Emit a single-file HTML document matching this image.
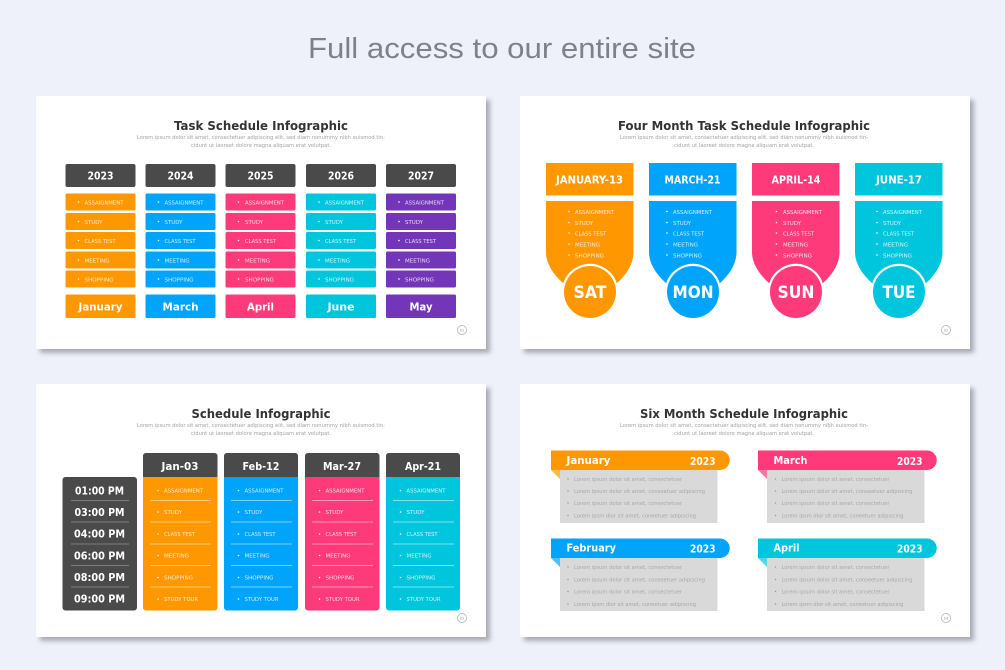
<!DOCTYPE html>
<html><head><meta charset="utf-8"><style>
html,body{margin:0;padding:0;background:#eef1f9}
svg{display:block}
text{font-family:"DejaVu Sans","Liberation Sans",sans-serif}
.h{font-weight:700;fill:#333;font-size:12.8px}
.sub{font-size:5.4px;fill:#a2a2a2}
.w{font-weight:700;fill:#fff}
.l{font-size:5.3px;fill:#fff;fill-opacity:.82}
.g{font-size:5.6px;fill:#a8a8a8}
.n{font-size:3.5px;fill:#999}
</style></head><body>
<svg width="1005" height="670" viewBox="0 0 1005 670" xmlns="http://www.w3.org/2000/svg">
<defs><filter id="b" x="-5%" y="-5%" width="110%" height="115%"><feGaussianBlur stdDeviation="2.5"/></filter></defs>
<rect width="1005" height="670" fill="#eef1f9"/>
<text x="502" y="58" text-anchor="middle" textLength="388" lengthAdjust="spacingAndGlyphs" style="font-family:'Liberation Sans',sans-serif;font-size:29px;fill:#7d8289">Full access to our entire site</text>

<!-- cards -->
<g fill="#a9acb4" filter="url(#b)"><rect x="40" y="100" width="450" height="253"/><rect x="524" y="100" width="450" height="253"/><rect x="40" y="388" width="450" height="253"/><rect x="524" y="388" width="450" height="253"/></g>
<g fill="#fff"><rect x="36" y="96" width="450" height="253"/><rect x="520" y="96" width="450" height="253"/><rect x="36" y="384" width="450" height="253"/><rect x="520" y="384" width="450" height="253"/></g>

<!-- CARD 1 -->
<text class="h" x="261" y="130" text-anchor="middle" textLength="174" lengthAdjust="spacingAndGlyphs">Task Schedule Infographic</text>
<text class="sub" x="261" y="139" text-anchor="middle" textLength="248" lengthAdjust="spacingAndGlyphs">Lorem ipsum dolor sit amet, consectetuer adipiscing elit, sed diam nonummy nibh euismod tin-</text>
<text class="sub" x="261" y="147" text-anchor="middle" textLength="140" lengthAdjust="spacingAndGlyphs">cidunt ut laoreet dolore magna aliquam erat volutpat.</text>
<g fill="#4a4a4a"><rect x="65.5" y="164" width="70" height="23" rx="2"/><rect x="145.5" y="164" width="70" height="23" rx="2"/><rect x="225.5" y="164" width="70" height="23" rx="2"/><rect x="306" y="164" width="70" height="23" rx="2"/><rect x="386" y="164" width="70" height="23" rx="2"/></g>
<g font-size="11" text-anchor="middle"><text class="w" x="100.5" y="179.5" textLength="26" lengthAdjust="spacingAndGlyphs">2023</text><text class="w" x="180.5" y="179.5" textLength="26" lengthAdjust="spacingAndGlyphs">2024</text><text class="w" x="260.5" y="179.5" textLength="26" lengthAdjust="spacingAndGlyphs">2025</text><text class="w" x="341" y="179.5" textLength="26" lengthAdjust="spacingAndGlyphs">2026</text><text class="w" x="421" y="179.5" textLength="26" lengthAdjust="spacingAndGlyphs">2027</text></g>
<g fill="#ff9800"><rect x="65.5" y="193.5" width="70" height="17" rx="1.5"/><rect x="65.5" y="213" width="70" height="17" rx="1.5"/><rect x="65.5" y="232" width="70" height="17" rx="1.5"/><rect x="65.5" y="251.5" width="70" height="17" rx="1.5"/><rect x="65.5" y="270.5" width="70" height="17" rx="1.5"/><rect x="65.5" y="294.5" width="70" height="23.5" rx="1.5"/></g>
<g fill="#00a5fb"><rect x="145.5" y="193.5" width="70" height="17" rx="1.5"/><rect x="145.5" y="213" width="70" height="17" rx="1.5"/><rect x="145.5" y="232" width="70" height="17" rx="1.5"/><rect x="145.5" y="251.5" width="70" height="17" rx="1.5"/><rect x="145.5" y="270.5" width="70" height="17" rx="1.5"/><rect x="145.5" y="294.5" width="70" height="23.5" rx="1.5"/></g>
<g fill="#fe3a7a"><rect x="225.5" y="193.5" width="70" height="17" rx="1.5"/><rect x="225.5" y="213" width="70" height="17" rx="1.5"/><rect x="225.5" y="232" width="70" height="17" rx="1.5"/><rect x="225.5" y="251.5" width="70" height="17" rx="1.5"/><rect x="225.5" y="270.5" width="70" height="17" rx="1.5"/><rect x="225.5" y="294.5" width="70" height="23.5" rx="1.5"/></g>
<g fill="#00c6dd"><rect x="306" y="193.5" width="70" height="17" rx="1.5"/><rect x="306" y="213" width="70" height="17" rx="1.5"/><rect x="306" y="232" width="70" height="17" rx="1.5"/><rect x="306" y="251.5" width="70" height="17" rx="1.5"/><rect x="306" y="270.5" width="70" height="17" rx="1.5"/><rect x="306" y="294.5" width="70" height="23.5" rx="1.5"/></g>
<g fill="#7436b8"><rect x="386" y="193.5" width="70" height="17" rx="1.5"/><rect x="386" y="213" width="70" height="17" rx="1.5"/><rect x="386" y="232" width="70" height="17" rx="1.5"/><rect x="386" y="251.5" width="70" height="17" rx="1.5"/><rect x="386" y="270.5" width="70" height="17" rx="1.5"/><rect x="386" y="294.5" width="70" height="23.5" rx="1.5"/></g>
<g fill="#fff">
<circle cx="78.5" cy="202" r=".8"/><circle cx="78.5" cy="221.5" r=".8"/><circle cx="78.5" cy="240.5" r=".8"/><circle cx="78.5" cy="260" r=".8"/><circle cx="78.5" cy="279" r=".8"/>
<circle cx="158.5" cy="202" r=".8"/><circle cx="158.5" cy="221.5" r=".8"/><circle cx="158.5" cy="240.5" r=".8"/><circle cx="158.5" cy="260" r=".8"/><circle cx="158.5" cy="279" r=".8"/>
<circle cx="238.5" cy="202" r=".8"/><circle cx="238.5" cy="221.5" r=".8"/><circle cx="238.5" cy="240.5" r=".8"/><circle cx="238.5" cy="260" r=".8"/><circle cx="238.5" cy="279" r=".8"/>
<circle cx="319" cy="202" r=".8"/><circle cx="319" cy="221.5" r=".8"/><circle cx="319" cy="240.5" r=".8"/><circle cx="319" cy="260" r=".8"/><circle cx="319" cy="279" r=".8"/>
<circle cx="399" cy="202" r=".8"/><circle cx="399" cy="221.5" r=".8"/><circle cx="399" cy="240.5" r=".8"/><circle cx="399" cy="260" r=".8"/><circle cx="399" cy="279" r=".8"/>
</g>
<text class="l" x="84.5" y="204.5" textLength="39" lengthAdjust="spacingAndGlyphs">ASSAIGNMENT</text><text class="l" x="84.5" y="224" textLength="18" lengthAdjust="spacingAndGlyphs">STUDY</text><text class="l" x="84.5" y="243" textLength="31" lengthAdjust="spacingAndGlyphs">CLASS TEST</text><text class="l" x="84.5" y="262.5" textLength="25" lengthAdjust="spacingAndGlyphs">MEETING</text><text class="l" x="84.5" y="281.5" textLength="29" lengthAdjust="spacingAndGlyphs">SHOPPING</text>
<text class="l" x="164.5" y="204.5" textLength="39" lengthAdjust="spacingAndGlyphs">ASSAIGNMENT</text><text class="l" x="164.5" y="224" textLength="18" lengthAdjust="spacingAndGlyphs">STUDY</text><text class="l" x="164.5" y="243" textLength="31" lengthAdjust="spacingAndGlyphs">CLASS TEST</text><text class="l" x="164.5" y="262.5" textLength="25" lengthAdjust="spacingAndGlyphs">MEETING</text><text class="l" x="164.5" y="281.5" textLength="29" lengthAdjust="spacingAndGlyphs">SHOPPING</text>
<text class="l" x="245" y="204.5" textLength="39" lengthAdjust="spacingAndGlyphs">ASSAIGNMENT</text><text class="l" x="245" y="224" textLength="18" lengthAdjust="spacingAndGlyphs">STUDY</text><text class="l" x="245" y="243" textLength="31" lengthAdjust="spacingAndGlyphs">CLASS TEST</text><text class="l" x="245" y="262.5" textLength="25" lengthAdjust="spacingAndGlyphs">MEETING</text><text class="l" x="245" y="281.5" textLength="29" lengthAdjust="spacingAndGlyphs">SHOPPING</text>
<text class="l" x="325" y="204.5" textLength="39" lengthAdjust="spacingAndGlyphs">ASSAIGNMENT</text><text class="l" x="325" y="224" textLength="18" lengthAdjust="spacingAndGlyphs">STUDY</text><text class="l" x="325" y="243" textLength="31" lengthAdjust="spacingAndGlyphs">CLASS TEST</text><text class="l" x="325" y="262.5" textLength="25" lengthAdjust="spacingAndGlyphs">MEETING</text><text class="l" x="325" y="281.5" textLength="29" lengthAdjust="spacingAndGlyphs">SHOPPING</text>
<text class="l" x="405" y="204.5" textLength="39" lengthAdjust="spacingAndGlyphs">ASSAIGNMENT</text><text class="l" x="405" y="224" textLength="18" lengthAdjust="spacingAndGlyphs">STUDY</text><text class="l" x="405" y="243" textLength="31" lengthAdjust="spacingAndGlyphs">CLASS TEST</text><text class="l" x="405" y="262.5" textLength="25" lengthAdjust="spacingAndGlyphs">MEETING</text><text class="l" x="405" y="281.5" textLength="29" lengthAdjust="spacingAndGlyphs">SHOPPING</text>
<g text-anchor="middle" font-size="11"><text class="w" x="100.5" y="310.5" textLength="44" lengthAdjust="spacingAndGlyphs">January</text><text class="w" x="180.5" y="310.5" textLength="36" lengthAdjust="spacingAndGlyphs">March</text><text class="w" x="260.5" y="310.5" textLength="27" lengthAdjust="spacingAndGlyphs">April</text><text class="w" x="341" y="310.5" textLength="27" lengthAdjust="spacingAndGlyphs">June</text><text class="w" x="421" y="310.5" textLength="23" lengthAdjust="spacingAndGlyphs">May</text></g>
<circle cx="462" cy="330" r="4.5" fill="none" stroke="#aaa" stroke-width=".7"/><text class="n" x="462" y="331.5" text-anchor="middle">01</text>

<!-- CARD 2 -->
<text class="h" x="744" y="130" text-anchor="middle" textLength="252" lengthAdjust="spacingAndGlyphs">Four Month Task Schedule Infographic</text>
<text class="sub" x="744" y="139" text-anchor="middle" textLength="248" lengthAdjust="spacingAndGlyphs">Lorem ipsum dolor sit amet, consectetuer adipiscing elit, sed diam nonummy nibh euismod tin-</text>
<text class="sub" x="744" y="147" text-anchor="middle" textLength="140" lengthAdjust="spacingAndGlyphs">cidunt ut laoreet dolore magna aliquam erat volutpat.</text>
<g fill="#ff9800"><rect x="546" y="163" width="87.5" height="32.5"/><path d="M546 201H633.5V252C633.5 265 625 276 616 284H564C555 276 546 265 546 252Z"/></g>
<g fill="#00a5fb"><rect x="649" y="163" width="87.5" height="32.5"/><path d="M649 201H736.5V252C736.5 265 728 276 719 284H667C658 276 649 265 649 252Z"/></g>
<g fill="#fe3a7a"><rect x="752" y="163" width="87.5" height="32.5"/><path d="M752 201H839.5V252C839.5 265 831 276 822 284H770C761 276 752 265 752 252Z"/></g>
<g fill="#00c6dd"><rect x="855" y="163" width="87.5" height="32.5"/><path d="M855 201H942.5V252C942.5 265 934 276 925 284H873C864 276 855 265 855 252Z"/></g>
<g fill="#fff"><circle cx="590" cy="292" r="28.2"/><circle cx="693" cy="292" r="28.2"/><circle cx="796" cy="292" r="28.2"/><circle cx="899" cy="292" r="28.2"/></g>
<circle cx="590" cy="292" r="26" fill="#ff9800"/><circle cx="693" cy="292" r="26" fill="#00a5fb"/><circle cx="796" cy="292" r="26" fill="#fe3a7a"/><circle cx="899" cy="292" r="26" fill="#00c6dd"/>
<g text-anchor="middle"><text class="w" x="589.5" y="183.5" style="font-size:11px" textLength="67" lengthAdjust="spacingAndGlyphs">JANUARY-13</text><text class="w" x="692.5" y="183.5" style="font-size:11px" textLength="56" lengthAdjust="spacingAndGlyphs">MARCH-21</text><text class="w" x="796" y="183.5" style="font-size:11px" textLength="49" lengthAdjust="spacingAndGlyphs">APRIL-14</text><text class="w" x="899" y="183.5" style="font-size:11px" textLength="46" lengthAdjust="spacingAndGlyphs">JUNE-17</text></g>
<g text-anchor="middle"><text class="w" x="590" y="298" style="font-size:16.5px" textLength="33" lengthAdjust="spacingAndGlyphs">SAT</text><text class="w" x="693" y="298" style="font-size:16.5px" textLength="41" lengthAdjust="spacingAndGlyphs">MON</text><text class="w" x="796" y="298" style="font-size:16.5px" textLength="37" lengthAdjust="spacingAndGlyphs">SUN</text><text class="w" x="899" y="298" style="font-size:16.5px" textLength="33" lengthAdjust="spacingAndGlyphs">TUE</text></g>
<g fill="#fff">
<circle cx="569" cy="211.5" r=".8"/><circle cx="569" cy="222.5" r=".8"/><circle cx="569" cy="233" r=".8"/><circle cx="569" cy="244" r=".8"/><circle cx="569" cy="255" r=".8"/>
<circle cx="667" cy="211.5" r=".8"/><circle cx="667" cy="222.5" r=".8"/><circle cx="667" cy="233" r=".8"/><circle cx="667" cy="244" r=".8"/><circle cx="667" cy="255" r=".8"/>
<circle cx="776.5" cy="211.5" r=".8"/><circle cx="776.5" cy="222.5" r=".8"/><circle cx="776.5" cy="233" r=".8"/><circle cx="776.5" cy="244" r=".8"/><circle cx="776.5" cy="255" r=".8"/>
<circle cx="877" cy="211.5" r=".8"/><circle cx="877" cy="222.5" r=".8"/><circle cx="877" cy="233" r=".8"/><circle cx="877" cy="244" r=".8"/><circle cx="877" cy="255" r=".8"/>
</g>
<text class="l" x="575" y="214" textLength="39" lengthAdjust="spacingAndGlyphs">ASSAIGNMENT</text><text class="l" x="575" y="225" textLength="18" lengthAdjust="spacingAndGlyphs">STUDY</text><text class="l" x="575" y="235.5" textLength="31" lengthAdjust="spacingAndGlyphs">CLASS TEST</text><text class="l" x="575" y="246.5" textLength="25" lengthAdjust="spacingAndGlyphs">MEETING</text><text class="l" x="575" y="257.5" textLength="29" lengthAdjust="spacingAndGlyphs">SHOPPING</text>
<text class="l" x="673" y="214" textLength="39" lengthAdjust="spacingAndGlyphs">ASSAIGNMENT</text><text class="l" x="673" y="225" textLength="18" lengthAdjust="spacingAndGlyphs">STUDY</text><text class="l" x="673" y="235.5" textLength="31" lengthAdjust="spacingAndGlyphs">CLASS TEST</text><text class="l" x="673" y="246.5" textLength="25" lengthAdjust="spacingAndGlyphs">MEETING</text><text class="l" x="673" y="257.5" textLength="29" lengthAdjust="spacingAndGlyphs">SHOPPING</text>
<text class="l" x="783" y="214" textLength="39" lengthAdjust="spacingAndGlyphs">ASSAIGNMENT</text><text class="l" x="783" y="225" textLength="18" lengthAdjust="spacingAndGlyphs">STUDY</text><text class="l" x="783" y="235.5" textLength="31" lengthAdjust="spacingAndGlyphs">CLASS TEST</text><text class="l" x="783" y="246.5" textLength="25" lengthAdjust="spacingAndGlyphs">MEETING</text><text class="l" x="783" y="257.5" textLength="29" lengthAdjust="spacingAndGlyphs">SHOPPING</text>
<text class="l" x="883" y="214" textLength="39" lengthAdjust="spacingAndGlyphs">ASSAIGNMENT</text><text class="l" x="883" y="225" textLength="18" lengthAdjust="spacingAndGlyphs">STUDY</text><text class="l" x="883" y="235.5" textLength="31" lengthAdjust="spacingAndGlyphs">CLASS TEST</text><text class="l" x="883" y="246.5" textLength="25" lengthAdjust="spacingAndGlyphs">MEETING</text><text class="l" x="883" y="257.5" textLength="29" lengthAdjust="spacingAndGlyphs">SHOPPING</text>
<circle cx="946" cy="330" r="4.5" fill="none" stroke="#aaa" stroke-width=".7"/><text class="n" x="946" y="331.5" text-anchor="middle">02</text>

<!-- CARD 3 -->
<text class="h" x="261" y="418" text-anchor="middle" textLength="139" lengthAdjust="spacingAndGlyphs">Schedule Infographic</text>
<text class="sub" x="261" y="427" text-anchor="middle" textLength="248" lengthAdjust="spacingAndGlyphs">Lorem ipsum dolor sit amet, consectetuer adipiscing elit, sed diam nonummy nibh euismod tin-</text>
<text class="sub" x="261" y="435" text-anchor="middle" textLength="140" lengthAdjust="spacingAndGlyphs">cidunt ut laoreet dolore magna aliquam erat volutpat.</text>
<rect x="62.5" y="477" width="74.5" height="133.5" rx="3" fill="#4a4a4a"/>
<path d="M143 610.5V456a3 3 0 0 1 3-3h68.5a3 3 0 0 1 3 3V607.5a3 3 0 0 1-3 3H146a3 3 0 0 1-3-3Z" fill="#ff9800"/>
<path d="M224 610.5V456a3 3 0 0 1 3-3h68a3 3 0 0 1 3 3V607.5a3 3 0 0 1-3 3H227a3 3 0 0 1-3-3Z" fill="#00a5fb"/>
<path d="M305 610.5V456a3 3 0 0 1 3-3h68.5a3 3 0 0 1 3 3V607.5a3 3 0 0 1-3 3H308a3 3 0 0 1-3-3Z" fill="#fe3a7a"/>
<path d="M386 610.5V456a3 3 0 0 1 3-3h68a3 3 0 0 1 3 3V607.5a3 3 0 0 1-3 3H389a3 3 0 0 1-3-3Z" fill="#00c6dd"/>
<g fill="#4a4a4a"><path d="M143 477V456a3 3 0 0 1 3-3h68.5a3 3 0 0 1 3 3V477Z"/><path d="M224 477V456a3 3 0 0 1 3-3h68a3 3 0 0 1 3 3V477Z"/><path d="M305 477V456a3 3 0 0 1 3-3h68.5a3 3 0 0 1 3 3V477Z"/><path d="M386 477V456a3 3 0 0 1 3-3h68a3 3 0 0 1 3 3V477Z"/></g>
<g text-anchor="middle"><text class="w" x="180" y="470" style="font-size:11px" textLength="37" lengthAdjust="spacingAndGlyphs">Jan-03</text><text class="w" x="261" y="470" style="font-size:11px" textLength="37" lengthAdjust="spacingAndGlyphs">Feb-12</text><text class="w" x="342" y="470" style="font-size:11px" textLength="38" lengthAdjust="spacingAndGlyphs">Mar-27</text><text class="w" x="423" y="470" style="font-size:11px" textLength="36" lengthAdjust="spacingAndGlyphs">Apr-21</text></g>
<g text-anchor="middle"><text class="w" x="99.5" y="494.5" style="font-size:11px" textLength="49" lengthAdjust="spacingAndGlyphs">01:00 PM</text><text class="w" x="99.5" y="516" style="font-size:11px" textLength="50" lengthAdjust="spacingAndGlyphs">03:00 PM</text><text class="w" x="99.5" y="537.5" style="font-size:11px" textLength="51" lengthAdjust="spacingAndGlyphs">04:00 PM</text><text class="w" x="99.5" y="559.5" style="font-size:11px" textLength="51" lengthAdjust="spacingAndGlyphs">06:00 PM</text><text class="w" x="99.5" y="581" style="font-size:11px" textLength="51" lengthAdjust="spacingAndGlyphs">08:00 PM</text><text class="w" x="99.5" y="602.5" style="font-size:11px" textLength="51" lengthAdjust="spacingAndGlyphs">09:00 PM</text></g>
<g stroke="#8f8f8f" stroke-width=".8"><path d="M71 500.5H129M71 522H129M71 544H129M71 565.5H129M71 587H129"/></g>
<g stroke="#fff" stroke-opacity=".65" stroke-width=".8"><path d="M150 500.5H211M150 522H211M150 544H211M150 565.5H211M150 587H211M231 500.5H292M231 522H292M231 544H292M231 565.5H292M231 587H292M312 500.5H373M312 522H373M312 544H373M312 565.5H373M312 587H373M393 500.5H454M393 522H454M393 544H454M393 565.5H454M393 587H454"/></g>
<g fill="#fff">
<circle cx="158" cy="490.5" r=".8"/><circle cx="158" cy="512" r=".8"/><circle cx="158" cy="534" r=".8"/><circle cx="158" cy="555.5" r=".8"/><circle cx="158" cy="577.5" r=".8"/><circle cx="158" cy="599" r=".8"/>
<circle cx="238.5" cy="490.5" r=".8"/><circle cx="238.5" cy="512" r=".8"/><circle cx="238.5" cy="534" r=".8"/><circle cx="238.5" cy="555.5" r=".8"/><circle cx="238.5" cy="577.5" r=".8"/><circle cx="238.5" cy="599" r=".8"/>
<circle cx="319.5" cy="490.5" r=".8"/><circle cx="319.5" cy="512" r=".8"/><circle cx="319.5" cy="534" r=".8"/><circle cx="319.5" cy="555.5" r=".8"/><circle cx="319.5" cy="577.5" r=".8"/><circle cx="319.5" cy="599" r=".8"/>
<circle cx="400.5" cy="490.5" r=".8"/><circle cx="400.5" cy="512" r=".8"/><circle cx="400.5" cy="534" r=".8"/><circle cx="400.5" cy="555.5" r=".8"/><circle cx="400.5" cy="577.5" r=".8"/><circle cx="400.5" cy="599" r=".8"/>
</g>
<text class="l" x="164" y="492.5" textLength="39" lengthAdjust="spacingAndGlyphs">ASSAIGNMENT</text><text class="l" x="164" y="514" textLength="18" lengthAdjust="spacingAndGlyphs">STUDY</text><text class="l" x="164" y="536" textLength="31" lengthAdjust="spacingAndGlyphs">CLASS TEST</text><text class="l" x="164" y="557.5" textLength="25" lengthAdjust="spacingAndGlyphs">MEETING</text><text class="l" x="164" y="579.5" textLength="29" lengthAdjust="spacingAndGlyphs">SHOPPING</text><text class="l" x="164" y="601" textLength="34" lengthAdjust="spacingAndGlyphs">STUDY TOUR</text>
<text class="l" x="244.5" y="492.5" textLength="39" lengthAdjust="spacingAndGlyphs">ASSAIGNMENT</text><text class="l" x="244.5" y="514" textLength="18" lengthAdjust="spacingAndGlyphs">STUDY</text><text class="l" x="244.5" y="536" textLength="31" lengthAdjust="spacingAndGlyphs">CLASS TEST</text><text class="l" x="244.5" y="557.5" textLength="25" lengthAdjust="spacingAndGlyphs">MEETING</text><text class="l" x="244.5" y="579.5" textLength="29" lengthAdjust="spacingAndGlyphs">SHOPPING</text><text class="l" x="244.5" y="601" textLength="34" lengthAdjust="spacingAndGlyphs">STUDY TOUR</text>
<text class="l" x="325.5" y="492.5" textLength="39" lengthAdjust="spacingAndGlyphs">ASSAIGNMENT</text><text class="l" x="325.5" y="514" textLength="18" lengthAdjust="spacingAndGlyphs">STUDY</text><text class="l" x="325.5" y="536" textLength="31" lengthAdjust="spacingAndGlyphs">CLASS TEST</text><text class="l" x="325.5" y="557.5" textLength="25" lengthAdjust="spacingAndGlyphs">MEETING</text><text class="l" x="325.5" y="579.5" textLength="29" lengthAdjust="spacingAndGlyphs">SHOPPING</text><text class="l" x="325.5" y="601" textLength="34" lengthAdjust="spacingAndGlyphs">STUDY TOUR</text>
<text class="l" x="406.5" y="492.5" textLength="39" lengthAdjust="spacingAndGlyphs">ASSAIGNMENT</text><text class="l" x="406.5" y="514" textLength="18" lengthAdjust="spacingAndGlyphs">STUDY</text><text class="l" x="406.5" y="536" textLength="31" lengthAdjust="spacingAndGlyphs">CLASS TEST</text><text class="l" x="406.5" y="557.5" textLength="25" lengthAdjust="spacingAndGlyphs">MEETING</text><text class="l" x="406.5" y="579.5" textLength="29" lengthAdjust="spacingAndGlyphs">SHOPPING</text><text class="l" x="406.5" y="601" textLength="34" lengthAdjust="spacingAndGlyphs">STUDY TOUR</text>
<circle cx="462" cy="618" r="4.5" fill="none" stroke="#aaa" stroke-width=".7"/><text class="n" x="462" y="619.5" text-anchor="middle">03</text>

<!-- CARD 4 -->
<text class="h" x="744" y="418" text-anchor="middle" textLength="208" lengthAdjust="spacingAndGlyphs">Six Month Schedule Infographic</text>
<text class="sub" x="744" y="427" text-anchor="middle" textLength="248" lengthAdjust="spacingAndGlyphs">Lorem ipsum dolor sit amet, consectetuer adipiscing elit, sed diam nonummy nibh euismod tin-</text>
<text class="sub" x="744" y="435" text-anchor="middle" textLength="140" lengthAdjust="spacingAndGlyphs">cidunt ut laoreet dolore magna aliquam erat volutpat.</text>
<g fill="#d9d9d9"><rect x="560" y="470" width="157.5" height="53"/><rect x="560" y="558" width="157.5" height="53"/><rect x="767" y="470" width="157.5" height="53"/><rect x="767" y="558" width="157.5" height="53"/></g>
<path d="M551 470H560V479Z" fill="#ffb84d"/><path d="M551 558H560V567Z" fill="#4dc0fc"/><path d="M758 470H767V479Z" fill="#fe75a2"/><path d="M758 558H767V567Z" fill="#4dd7e7"/>
<path d="M551 450.5H720a9.75 9.75 0 0 1 0 19.5H551Z" fill="#ff9800"/>
<path d="M551 538.5H720a9.75 9.75 0 0 1 0 19.5H551Z" fill="#00a5fb"/>
<path d="M758 450.5H927a9.75 9.75 0 0 1 0 19.5H758Z" fill="#fe3a7a"/>
<path d="M758 538.5H927a9.75 9.75 0 0 1 0 19.5H758Z" fill="#00c6dd"/>
<text class="w" x="566.5" y="464" style="font-size:11px" textLength="44" lengthAdjust="spacingAndGlyphs">January</text><text class="w" x="690" y="465" style="font-size:11px" textLength="25.5" lengthAdjust="spacingAndGlyphs">2023</text>
<text class="w" x="566.5" y="551.5" style="font-size:11px" textLength="49.5" lengthAdjust="spacingAndGlyphs">February</text><text class="w" x="690" y="552.5" style="font-size:11px" textLength="25.5" lengthAdjust="spacingAndGlyphs">2023</text>
<text class="w" x="773.5" y="464" style="font-size:11px" textLength="34" lengthAdjust="spacingAndGlyphs">March</text><text class="w" x="897" y="465" style="font-size:11px" textLength="25.5" lengthAdjust="spacingAndGlyphs">2023</text>
<text class="w" x="773.5" y="551.5" style="font-size:11px" textLength="26" lengthAdjust="spacingAndGlyphs">April</text><text class="w" x="897" y="552.5" style="font-size:11px" textLength="25.5" lengthAdjust="spacingAndGlyphs">2023</text>
<g fill="#999">
<circle cx="568" cy="479" r=".7"/><circle cx="568" cy="491" r=".7"/><circle cx="568" cy="503" r=".7"/><circle cx="568" cy="515.5" r=".7"/>
<circle cx="568" cy="567" r=".7"/><circle cx="568" cy="579.5" r=".7"/><circle cx="568" cy="591.5" r=".7"/><circle cx="568" cy="604" r=".7"/>
<circle cx="775.5" cy="479" r=".7"/><circle cx="775.5" cy="491" r=".7"/><circle cx="775.5" cy="503" r=".7"/><circle cx="775.5" cy="515.5" r=".7"/>
<circle cx="775.5" cy="567" r=".7"/><circle cx="775.5" cy="579.5" r=".7"/><circle cx="775.5" cy="591.5" r=".7"/><circle cx="775.5" cy="604" r=".7"/>
</g>
<text class="g" x="574" y="481" textLength="108" lengthAdjust="spacingAndGlyphs">Lorem ipsum dolor sit amet, consectetuer</text><text class="g" x="574" y="493" textLength="131" lengthAdjust="spacingAndGlyphs">Lorem ipsum dolor sit amet, conseetuer adipiscing</text><text class="g" x="574" y="505" textLength="108" lengthAdjust="spacingAndGlyphs">Lorem ipsum dolor sit amet, consectetuer</text><text class="g" x="574" y="517.5" textLength="122" lengthAdjust="spacingAndGlyphs">Lorem ipsm dlor sit amet, coneetuer adipiscing</text>
<text class="g" x="574" y="569" textLength="108" lengthAdjust="spacingAndGlyphs">Lorem ipsum dolor sit amet, consectetuer</text><text class="g" x="574" y="581.5" textLength="131" lengthAdjust="spacingAndGlyphs">Lorem ipsum dolor sit amet, conseetuer adipiscing</text><text class="g" x="574" y="593.5" textLength="108" lengthAdjust="spacingAndGlyphs">Lorem ipsum dolor sit amet, consectetuer</text><text class="g" x="574" y="606" textLength="122" lengthAdjust="spacingAndGlyphs">Lorem ipsm dlor sit amet, coneetuer adipiscing</text>
<text class="g" x="781.5" y="481" textLength="108" lengthAdjust="spacingAndGlyphs">Lorem ipsum dolor sit amet, consectetuer</text><text class="g" x="781.5" y="493" textLength="131" lengthAdjust="spacingAndGlyphs">Lorem ipsum dolor sit amet, conseetuer adipiscing</text><text class="g" x="781.5" y="505" textLength="108" lengthAdjust="spacingAndGlyphs">Lorem ipsum dolor sit amet, consectetuer</text><text class="g" x="781.5" y="517.5" textLength="122" lengthAdjust="spacingAndGlyphs">Lorem ipsm dlor sit amet, coneetuer adipiscing</text>
<text class="g" x="781.5" y="569" textLength="108" lengthAdjust="spacingAndGlyphs">Lorem ipsum dolor sit amet, consectetuer</text><text class="g" x="781.5" y="581.5" textLength="131" lengthAdjust="spacingAndGlyphs">Lorem ipsum dolor sit amet, conseetuer adipiscing</text><text class="g" x="781.5" y="593.5" textLength="108" lengthAdjust="spacingAndGlyphs">Lorem ipsum dolor sit amet, consectetuer</text><text class="g" x="781.5" y="606" textLength="122" lengthAdjust="spacingAndGlyphs">Lorem ipsm dlor sit amet, coneetuer adipiscing</text>
<circle cx="946" cy="618" r="4.5" fill="none" stroke="#aaa" stroke-width=".7"/><text class="n" x="946" y="619.5" text-anchor="middle">04</text>
</svg>
</body></html>
